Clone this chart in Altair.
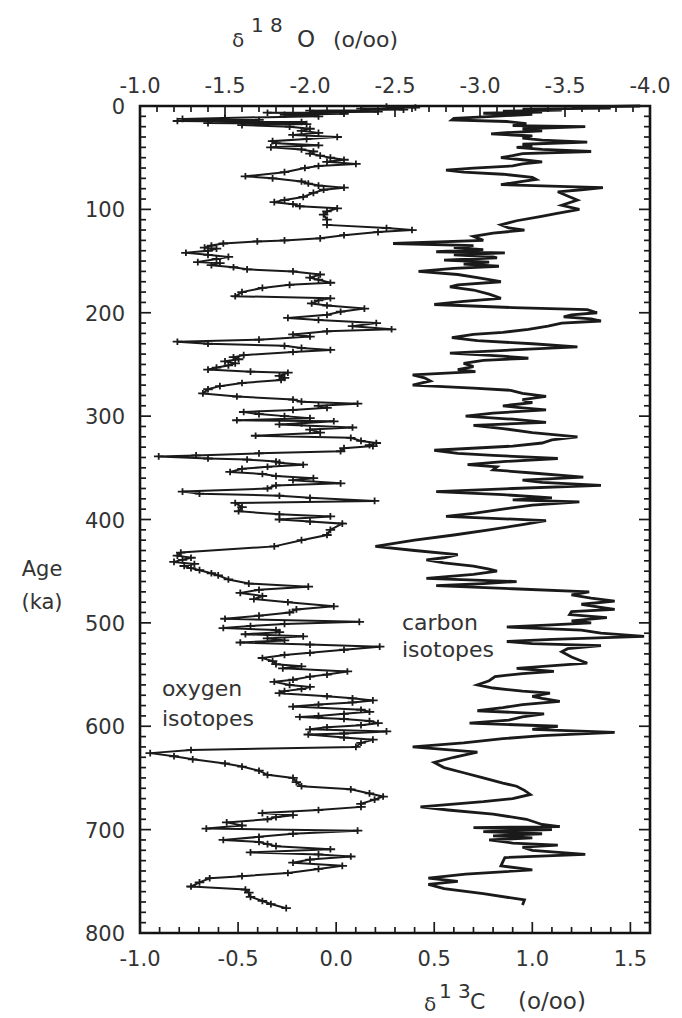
import altair as alt
import pandas as pd

# ---------------- data ----------------
O_AGE = [0.5, 1.5, 2.5, 3.5, 4.5, 5.5, 6.5, 7.5, 8.5, 10, 11.5, 12.5, 13.5, 14.5, 15.5, 16.5, 17.5, 18.5, 20,
         22, 24, 26, 28, 30, 32, 34, 36, 38, 40, 42, 44, 46, 48, 50, 52, 54, 56, 58, 60, 64, 68, 70, 73, 75,
         77, 79, 81, 84, 88, 91, 93, 95, 97, 99, 102, 105, 110, 115, 118, 120, 122, 125, 128, 130, 131, 133,
         135, 137, 138, 140, 142, 144, 146, 148, 151, 152, 154, 156, 158, 160, 163, 166, 168, 171, 173, 176,
         180, 184, 186, 188, 191, 193, 196, 199, 202, 205, 207, 210, 213, 216, 218, 221, 223, 226, 228, 230,
         232, 234, 236, 238, 241, 243, 245, 247, 249, 251, 253, 255, 257, 258, 261, 263, 265, 268, 271, 274,
         278, 281, 284, 286, 288, 290, 292, 294, 296, 298, 300, 302, 304, 305, 307, 308, 311, 313, 316, 319,
         321, 324, 326, 328, 329, 331, 334, 336, 338, 339, 341, 342, 344, 345, 347, 349, 351, 354, 356, 358,
         360, 362, 365, 367, 370, 373, 375, 377, 379, 382, 384, 388, 392, 395, 397, 400, 402, 404, 410, 415,
         420, 426, 432, 435, 437, 439, 441, 443, 445, 447, 449, 452, 454, 458, 462, 465, 468, 471, 474, 477,
         480, 484, 487, 490, 493, 496, 499, 501, 503, 505, 507, 509, 511, 513, 515, 517, 519, 521, 523, 526,
         529, 531, 534, 537, 540, 542, 544, 547, 550, 552, 555, 557, 560, 562, 564, 566, 568, 571, 573, 575,
         577, 579, 581, 584, 586, 588, 590, 591, 593, 595, 597, 599, 601, 603, 605, 607, 608, 611, 613, 616,
         620, 623, 626, 629, 632, 636, 639, 643, 647, 650, 654, 658, 661, 665, 668, 671, 675, 678, 681, 684,
         686, 688, 690, 693, 696, 699, 701, 704, 707, 710, 712, 714, 716, 719, 722, 724, 726, 729, 732, 735,
         738, 742, 745, 747, 751, 755, 758, 761, 765, 769, 772, 776]
O_D18 = [-2.45, -2.62, -2.3, -2.55, -2.0, -2.4, -1.75, -2.2, -1.85, -2.05, -1.5, -1.25, -1.7, -1.22, -1.95,
         -1.4, -1.98, -1.6, -1.88,
         -2.0, -1.95, -2.05, -1.9, -2.16, -1.98, -1.78, -1.8, -2.05, -1.77, -1.95, -2.02, -2.0, -2.06, -2.12,
         -2.2, -2.1, -2.27, -2.05, -1.97, -1.85, -1.62, -1.78, -1.95, -1.99,
         -2.05, -2.2, -2.08, -2.02, -1.96, -1.85, -1.79, -1.9, -1.94, -2.16, -2.1, -2.08, -2.1, -2.1, -2.45,
         -2.6, -2.4, -2.2, -2.06, -1.85, -1.69, -1.49,
         -1.42, -1.38, -1.45, -1.4, -1.27, -1.4, -1.52, -1.45, -1.34, -1.47, -1.42, -1.55, -1.63, -1.9, -2.06,
         -2.0, -2.05, -2.12, -1.88, -1.72,
         -1.6, -1.56, -2.12, -2.05, -2.01, -2.1, -2.32, -2.18, -2.1, -1.87, -2.05, -2.39, -2.25, -2.48, -2.1,
         -1.9, -2.0, -1.7, -1.22, -1.4,
         -1.85, -1.95, -2.12, -1.9, -1.61, -1.55, -1.58, -1.5, -1.56, -1.52, -1.45, -1.4, -1.65, -1.87, -1.82,
         -1.85, -1.83, -1.6, -1.47, -1.4,
         -1.37, -1.57, -1.9, -1.95, -2.28, -2.05, -2.1, -1.9, -1.61, -1.7, -1.85, -2.0, -1.57, -2.14, -1.95,
         -1.82, -2.25, -2.0, -2.06, -1.68,
         -2.24, -2.3, -2.39, -2.35, -2.37, -2.2, -2.18, -1.7, -1.33, -1.11, -1.4, -1.63, -1.8, -1.82, -1.96,
         -1.75, -1.6, -1.53, -1.72, -1.8,
         -2.02, -1.9, -2.18, -1.8, -1.75, -1.25, -1.35, -1.82, -2.0, -2.38, -1.56, -1.6, -1.58, -1.82, -2.12,
         -1.82, -2.0, -2.19, -2.12, -2.1,
         -1.95, -1.79, -1.24, -1.22, -1.3, -1.25, -1.2, -1.32, -1.26, -1.3, -1.35, -1.42, -1.46, -1.52, -1.64,
         -1.99, -1.7, -1.59, -1.72, -1.67,
         -1.87, -2.14, -1.92, -1.88, -1.7, -1.5, -2.29, -1.85, -1.65, -1.49, -1.8, -1.82, -1.62, -1.96, -1.75,
         -1.85, -1.59, -2.0, -2.41, -2.2,
         -2.0, -1.85, -1.72, -1.78, -1.8, -1.95, -1.84, -2.22, -2.1, -2.0, -1.9, -1.79, -1.88, -2.0, -1.95,
         -1.85, -1.82, -2.1, -2.25, -2.37,
         -2.25, -2.05, -1.9, -2.3, -2.35, -2.2, -2.05, -1.94, -2.2, -2.35, -2.4, -2.3, -2.1, -2.0, -2.45, -2.2,
         -1.99, -2.2, -2.37, -2.3,
         -2.27, -1.3, -1.06, -1.2, -1.31, -1.5, -1.6, -1.7, -1.75, -1.9, -1.92, -1.95, -2.24, -2.35, -2.43,
         -2.38, -2.3, -2.3, -2.05, -1.72,
         -1.9, -1.8, -1.75, -1.51, -1.6, -1.39, -2.28, -1.9, -1.7, -1.49, -1.7, -1.75, -1.8, -2.12, -1.65,
         -2.05, -2.24, -2.0, -1.9, -2.19,
         -2.05, -1.87, -1.6, -1.41, -1.35, -1.3, -1.62, -1.64, -1.65, -1.72, -1.77, -1.86]

C_AGE = [0, 1, 2, 3, 4, 5, 6, 7, 8, 10, 12, 13.5, 15, 17, 19, 20, 22, 24, 26, 27, 29, 31, 33, 35, 37, 39, 40,
         42, 44, 46, 48, 50, 52, 54, 56, 58, 60, 62, 64, 66, 69, 71, 73, 76, 79, 81, 83, 87, 91, 96, 100, 104,
         107, 111, 115, 118, 120, 123, 126, 130, 133, 135, 137, 139, 141, 142, 144, 146, 147, 149, 151, 153,
         155, 157, 160, 163, 166, 170, 173, 175, 178, 182, 186, 189, 192, 195, 197, 200, 202, 204, 206, 208,
         210, 213, 216, 219, 221, 224, 227, 230, 233, 236, 239, 242, 244, 246, 249, 252, 255, 257, 260, 263,
         266, 270, 273, 275, 278, 281, 284, 287, 290, 292, 294, 297, 300, 303, 306, 309, 312, 316, 320, 323,
         326, 329, 333, 336, 338, 341, 344, 347, 349, 352, 355, 359, 362, 364, 367, 370, 373, 376, 379, 381,
         383, 386, 390, 394, 397, 401, 405, 410, 415, 420, 426, 430, 434, 437, 439, 442, 445, 448, 450, 453,
         457, 460, 462, 464, 467, 470, 473, 476, 479, 482, 485, 487, 489, 492, 495, 498, 500, 502, 504, 507,
         510, 513, 516, 518, 520, 522, 525, 528, 533, 539, 544, 547, 549, 552, 556, 560, 563, 566, 568, 571,
         573, 576, 579, 582, 585, 588, 591, 594, 597, 600, 603, 606, 609, 612, 616, 620, 625, 630, 635, 640,
         645, 650, 655, 658, 662, 666, 670, 673, 678, 681, 685, 690, 695, 697, 698, 700, 702, 704, 706, 708,
         710, 713, 715, 717, 720, 724, 727, 731, 735, 739, 743, 747, 750, 753, 757, 762, 768, 773]
C_D13 = [1.55, 1.2, 1.4, 0.95, 1.15, 0.85, 1.05, 0.75, 1.0, 0.8, 0.6, 0.59, 0.87, 0.97, 0.9, 1.27, 0.95, 1.05,
         0.85, 0.79, 1.0, 0.95, 1.05, 1.28, 0.95, 1.0, 0.92,
         1.05, 1.3, 0.95, 0.9, 0.84, 0.95, 1.05, 0.95, 0.9, 0.7, 0.56, 0.65, 0.85, 1.0, 1.02, 0.95, 0.84, 1.36,
         1.25, 1.13, 1.18, 1.23, 1.15, 1.24, 1.12,
         1.04, 0.92, 0.84, 0.88, 0.96, 0.8, 0.7, 0.75, 0.29, 0.7, 0.6, 0.75, 0.51, 0.86, 0.6, 0.8, 0.82, 0.55,
         0.78, 0.65,
         0.83, 0.6, 0.42, 0.62, 0.72, 0.84, 0.62, 0.58, 0.7, 0.78, 0.84, 0.65, 0.5, 0.9, 1.28, 1.33, 1.2, 1.16,
         1.3, 1.35,
         1.15, 1.08, 0.98, 0.85, 0.7, 0.59, 0.72, 1.0, 1.23, 0.9, 0.58, 0.85, 0.98, 0.75, 0.65, 0.7, 0.62, 0.71,
         0.39, 0.45,
         0.48, 0.39, 0.7, 0.89, 0.95, 1.07, 0.95, 1.0, 0.85, 0.95, 1.07, 0.8, 0.66, 0.9, 1.07, 0.7, 0.85, 1.0,
         1.23, 1.1,
         1.05, 0.9, 0.5, 0.62, 0.8, 1.13, 0.85, 0.67, 0.82, 0.8, 1.0, 1.26, 0.95, 1.05, 1.35, 0.9, 0.51, 0.85,
         1.1, 0.9,
         1.24, 1.0, 0.85, 0.7, 0.56, 1.07, 0.95, 0.78, 0.6, 0.4, 0.2, 0.4, 0.62, 0.55, 0.46, 0.55, 0.7, 0.78,
         0.82, 0.7,
         0.46, 0.92, 0.75, 0.51, 0.9, 1.29, 1.2, 1.3, 1.42, 1.25, 1.35, 1.42, 1.2, 1.19, 1.38, 1.2, 1.3, 1.1,
         0.87, 1.25,
         1.35, 1.57, 1.1, 0.87, 1.0, 1.35, 1.18, 1.15, 1.2, 1.28, 0.92, 1.11, 0.95, 0.81, 0.78, 0.72, 0.8, 0.95,
         1.09, 1.0,
         1.05, 1.14, 0.95, 0.85, 0.72, 1.06, 0.95, 0.88, 0.68, 1.13, 1.0, 1.42, 1.05, 0.85, 0.65, 0.39, 0.72,
         0.6, 0.5, 0.55,
         0.65, 0.75, 0.85, 0.92, 0.96, 0.99, 0.9, 0.75, 0.43, 0.57, 0.8, 0.97, 1.05, 1.14, 0.7, 1.1, 0.75, 1.05,
         0.8, 1.0,
         0.78, 0.9, 1.13, 0.95, 1.0, 1.27, 0.86, 0.85, 0.84, 1.0, 0.66, 0.47, 0.62, 0.47, 0.55, 0.75, 0.96, 0.95]

AGE_LABELS = [0, 100, 200, 300, 400, 500, 600, 700, 800]
AGE_TEXT = ["0", "100", "200", "300", "400", "500", "600", "700", "800"]
TOP_LABELS = [-1.0, -1.5, -2.0, -2.5, -3.0, -3.5, -4.0]
TOP_TEXT = ["-1.0", "-1.5", "-2.0", "-2.5", "-3.0", "-3.5", "-4.0"]
BOTTOM_LABELS = [-1.0, -0.5, 0.0, 0.5, 1.0, 1.5]
BOTTOM_TEXT = ["-1.0", "-0.5", "0.0", "0.5", "1.0", "1.5"]

# ---------------- layout ----------------
W, H = 510, 827
INK = "#1a1a1a"
TXT = "#333333"
FONT = "DejaVu Sans"
LBL = 21

df_o = pd.DataFrame({"age": O_AGE, "d18O": O_D18})
df_c = pd.DataFrame({"age": C_AGE, "d13C": C_D13})

xo_scale = alt.Scale(domain=[-1.0, -4.0], nice=False, zero=False)
xc_scale = alt.Scale(domain=[-1.0, 1.6], nice=False, zero=False)
y_scale = alt.Scale(domain=[0, 800], reverse=True, nice=False, zero=False)

PLUS = "M-1,0L1,0M0,-0.7L0,0.7"

# tick positions (inward ticks drawn as rules)
y_minor = [a for a in range(0, 801, 10) if a % 100 != 0]
top_minor = [round(-1.0 - 0.1 * i, 1) for i in range(31)]
top_minor = [v for v in top_minor if v not in TOP_LABELS]
bot_minor = [round(-1.0 + 0.1 * i, 1) for i in range(27)]
bot_minor = [v for v in bot_minor if v not in BOTTOM_LABELS]

# ---------------- oxygen group (top scale) ----------------
o_line = alt.Chart(df_o).mark_line(color=INK, strokeWidth=2.0).encode(
    x=alt.X("d18O:Q", scale=xo_scale, axis=None),
    y=alt.Y("age:Q", scale=y_scale, axis=None),
    order="age:Q",
)
o_pts = alt.Chart(df_o).mark_point(shape=PLUS, size=90, filled=False, color=INK,
                                   strokeWidth=1.8, opacity=1).encode(
    x=alt.X("d18O:Q", scale=xo_scale, axis=None),
    y=alt.Y("age:Q", scale=y_scale, axis=None),
)
t_top_minor = alt.Chart(pd.DataFrame({"v": top_minor})).mark_rule(color=INK, strokeWidth=1.7).encode(
    x=alt.X("v:Q", scale=xo_scale, axis=None), y=alt.value(0), y2=alt.value(6))
t_top_major = alt.Chart(pd.DataFrame({"v": TOP_LABELS})).mark_rule(color=INK, strokeWidth=1.7).encode(
    x=alt.X("v:Q", scale=xo_scale, axis=None), y=alt.value(0), y2=alt.value(11))
top_lbl = alt.Chart(pd.DataFrame({"v": TOP_LABELS, "t": TOP_TEXT})).mark_text(
    align="center", baseline="alphabetic", font=FONT, fontSize=LBL, color=TXT).encode(
    x=alt.X("v:Q", scale=xo_scale, axis=None), y=alt.value(-13), text="t:N")
o_group = alt.layer(o_line, o_pts, t_top_minor, t_top_major, top_lbl)

# ---------------- carbon group (bottom scale) ----------------
c_line = alt.Chart(df_c).mark_line(color=INK, strokeWidth=2.8).encode(
    x=alt.X("d13C:Q", scale=xc_scale, axis=None),
    y=alt.Y("age:Q", scale=y_scale, axis=None),
    order="age:Q",
)
t_bot_minor = alt.Chart(pd.DataFrame({"v": bot_minor})).mark_rule(color=INK, strokeWidth=1.7).encode(
    x=alt.X("v:Q", scale=xc_scale, axis=None), y=alt.value(H), y2=alt.value(H - 6))
t_bot_major = alt.Chart(pd.DataFrame({"v": BOTTOM_LABELS})).mark_rule(color=INK, strokeWidth=1.7).encode(
    x=alt.X("v:Q", scale=xc_scale, axis=None), y=alt.value(H), y2=alt.value(H - 11))
bot_lbl = alt.Chart(pd.DataFrame({"v": BOTTOM_LABELS, "t": BOTTOM_TEXT})).mark_text(
    align="center", baseline="alphabetic", font=FONT, fontSize=LBL, color=TXT).encode(
    x=alt.X("v:Q", scale=xc_scale, axis=None), y=alt.value(H + 33), text="t:N")

ym = pd.DataFrame({"a": y_minor})
yM = pd.DataFrame({"a": AGE_LABELS, "t": AGE_TEXT})
t_left_minor = alt.Chart(ym).mark_rule(color=INK, strokeWidth=1.7).encode(
    y=alt.Y("a:Q", scale=y_scale, axis=None), x=alt.value(0), x2=alt.value(6))
t_left_major = alt.Chart(yM).mark_rule(color=INK, strokeWidth=1.7).encode(
    y=alt.Y("a:Q", scale=y_scale, axis=None), x=alt.value(0), x2=alt.value(11))
t_right_minor = alt.Chart(ym).mark_rule(color=INK, strokeWidth=1.7).encode(
    y=alt.Y("a:Q", scale=y_scale, axis=None), x=alt.value(W), x2=alt.value(W - 6))
t_right_major = alt.Chart(yM).mark_rule(color=INK, strokeWidth=1.7).encode(
    y=alt.Y("a:Q", scale=y_scale, axis=None), x=alt.value(W), x2=alt.value(W - 11))
left_lbl = alt.Chart(yM).mark_text(
    align="right", baseline="middle", font=FONT, fontSize=LBL, color=TXT, dy=2).encode(
    y=alt.Y("a:Q", scale=y_scale, axis=None), x=alt.value(-15), text="t:N")


def label(text, x, y, size=22, align="left"):
    return alt.Chart(pd.DataFrame({"t": [text]})).mark_text(
        align=align, baseline="alphabetic", font=FONT, fontSize=size, color=TXT
    ).encode(x=alt.value(x), y=alt.value(y), text="t:N")


texts = [
    label("oxygen", 22, 590),
    label("isotopes", 22, 620),
    label("carbon", 262, 524),
    label("isotopes", 262, 551),
    label("Age", -98, 470, 21, "center"),
    label("(ka)", -98, 503, 21, "center"),
    # top title  δ18O (o/oo)
    label("\u03b4", 92, -59, 20),
    label("1 8", 111, -74, 20),
    label("O", 157, -59, 23),
    label("(o/oo)", 193, -59, 22),
    # bottom title  δ13C (o/oo)
    label("\u03b4", 284, 905, 20),
    label("1 3", 299, 892, 20),
    label("C", 330, 903, 22),
    label("(o/oo)", 378, 903, 23),
]

c_group = alt.layer(c_line, t_bot_minor, t_bot_major, bot_lbl, t_left_minor, t_left_major,
                    t_right_minor, t_right_major, left_lbl, *texts)

chart = alt.layer(o_group, c_group).resolve_scale(x="independent").properties(
    width=W, height=H,
    autosize=alt.AutoSizeParams(type="none"),
    padding={"left": 140, "top": 106, "right": 32, "bottom": 85},
    background="white",
).configure_view(stroke="#111111", strokeWidth=2.6)

chart.save("out.html", embed_options={"renderer": "svg", "actions": False})
